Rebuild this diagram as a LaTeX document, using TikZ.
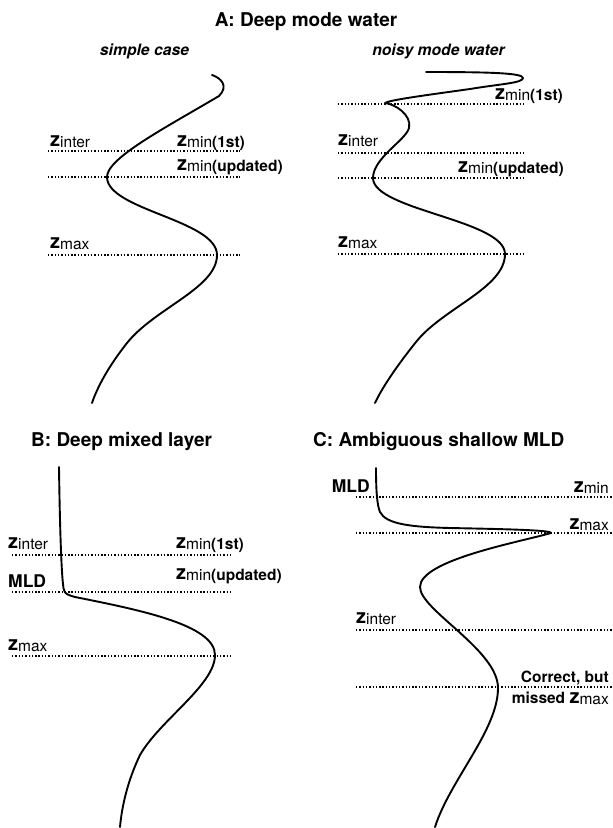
\documentclass[tikz,border=0pt]{standalone}
\usepackage{fontspec}
\setmainfont{TeX Gyre Heros}
\newcommand{\zlab}[2]{{\fontsize{20}{20}\selectfont\bfseries z}\raisebox{-1.5pt}{\fontsize{15.5}{15.5}\selectfont #1\bfseries #2}}
\tikzset{
  curve/.style={line width=1.9pt, line join=round, line cap=round},
  dotline/.style={line width=1.6pt, dash pattern=on 1.4pt off 1.9pt},
  lab/.style={inner sep=0pt, anchor=base west},
  labr/.style={inner sep=0pt, anchor=base east},
  ttl/.style={inner sep=0pt, font=\fontsize{19}{19}\selectfont\bfseries},
  sttl/.style={inner sep=0pt, anchor=base, font=\fontsize{15.7}{15.7}\selectfont\bfseries\itshape},
  word/.style={font=\fontsize{15.5}{15.5}\selectfont\bfseries},
  mld/.style={font=\fontsize{17.5}{17.5}\selectfont\bfseries}
}
\begin{document}
\begin{tikzpicture}[x=1pt,y=-1pt]
\useasboundingbox (0,0) rectangle (613,828);
% ---------- titles
\node[ttl, anchor=base] (tA) at (306,26) {A: Deep mode water};
\node[sttl] (tA1) at (144.5,55) {simple case};
\node[sttl] (tA2) at (438.5,55) {noisy mode water};
\node[ttl, anchor=base west] (tB) at (31,446) {B: Deep mixed layer};
\node[ttl, anchor=base west] (tC) at (313,446) {C: Ambiguous shallow MLD};

% ---------- A: simple case
\draw[dotline] (48,151) -- (240,151);
\draw[dotline] (48,177) -- (240,177);
\draw[dotline] (48,255) -- (240,255);
\node[lab] (a1i) at (50,146) {\zlab{inter}{}};
\node[lab] (a1m) at (177,146) {\zlab{min}{(1st)}};
\node[lab] (a1u) at (177,170) {\zlab{min}{(updated)}};
\node[lab] (a1x) at (50,248) {\zlab{max}{}};
\draw[curve] (212,75) .. controls (221,78) and (229,86) .. (219,96)
  .. controls (165,128) and (107,158) .. (107,177)
  .. controls (107,210) and (217,220) .. (217,255)
  .. controls (217,288) and (155,308) .. (127,343)
  .. controls (108,367) and (97,388) .. (92,403);

% ---------- A: noisy mode water
\draw[dotline] (338,104) -- (525,104);
\draw[dotline] (338,153) -- (525,153);
\draw[dotline] (338,178) -- (525,178);
\draw[dotline] (338,254) -- (525,254);
\node[lab] (a2m) at (495,99) {\zlab{min}{(1st)}};
\node[lab] (a2i) at (338,145) {\zlab{inter}{}};
\node[lab] (a2u) at (458,172) {\zlab{min}{(updated)}};
\node[lab] (a2x) at (338,247) {\zlab{max}{}};
\draw[curve] (426,72) .. controls (490,72) and (523,73) .. (523,78)
  .. controls (523,83) and (500,84) .. (470,89)
  .. controls (420,96) and (390,100) .. (385,103)
  .. controls (395,104) and (412,115) .. (409,128)
  .. controls (406,140) and (373,158) .. (373,178)
  .. controls (373,210) and (505,220) .. (505,254)
  .. controls (505,288) and (443,308) .. (416,342)
  .. controls (396,367) and (382,388) .. (375,403);

% ---------- B: deep mixed layer
\draw[dotline] (12,555) -- (230,555);
\draw[dotline] (12,592) -- (230,592);
\draw[dotline] (12,656) -- (230,656);
\node[lab] (bi) at (8,548) {\zlab{inter}{}};
\node[lab] (bm) at (176,548) {\zlab{min}{(1st)}};
\node[lab, mld] (bmld) at (8,587) {MLD};
\node[lab] (bu) at (176,579) {\zlab{min}{(updated)}};
\node[lab] (bx) at (8,650) {\zlab{max}{}};
\draw[curve] (59,467) .. controls (60,540) and (62,585) .. (64,590)
  .. controls (65,594) and (68,595) .. (75,597)
  .. controls (140,610) and (215,625) .. (215,655)
  .. controls (215,685) and (160,720) .. (140,755)
  .. controls (128,780) and (122,805) .. (120,827);

% ---------- C: ambiguous shallow MLD
\draw[dotline] (356,497) -- (613,497);
\draw[dotline] (356,533) -- (613,533);
\draw[dotline] (356,630) -- (613,630);
\draw[dotline] (356,687) -- (613,687);
\node[labr, mld] (cmld) at (370,492) {MLD};
\node[labr] (cm) at (609,492) {\zlab{min}{}};
\node[labr] (cx) at (609,529) {\zlab{max}{}};
\node[lab] (ci) at (356,623) {\zlab{inter}{}};
\node[labr, word] (cc) at (609,682) {Correct, but};
\node[labr] (cmx) at (609,703) {{\fontsize{15.5}{15.5}\selectfont\bfseries missed }\zlab{max}{}};
\draw[curve] (376,468) .. controls (376,490) and (377,505) .. (380,512)
  .. controls (386,524) and (410,527) .. (450,528)
  .. controls (500,529) and (552,530) .. (551,533)
  .. controls (520,542) and (420,560) .. (420,587)
  .. controls (420,610) and (498,650) .. (498,688)
  .. controls (498,730) and (450,780) .. (435,827);
\end{tikzpicture}
\end{document}
